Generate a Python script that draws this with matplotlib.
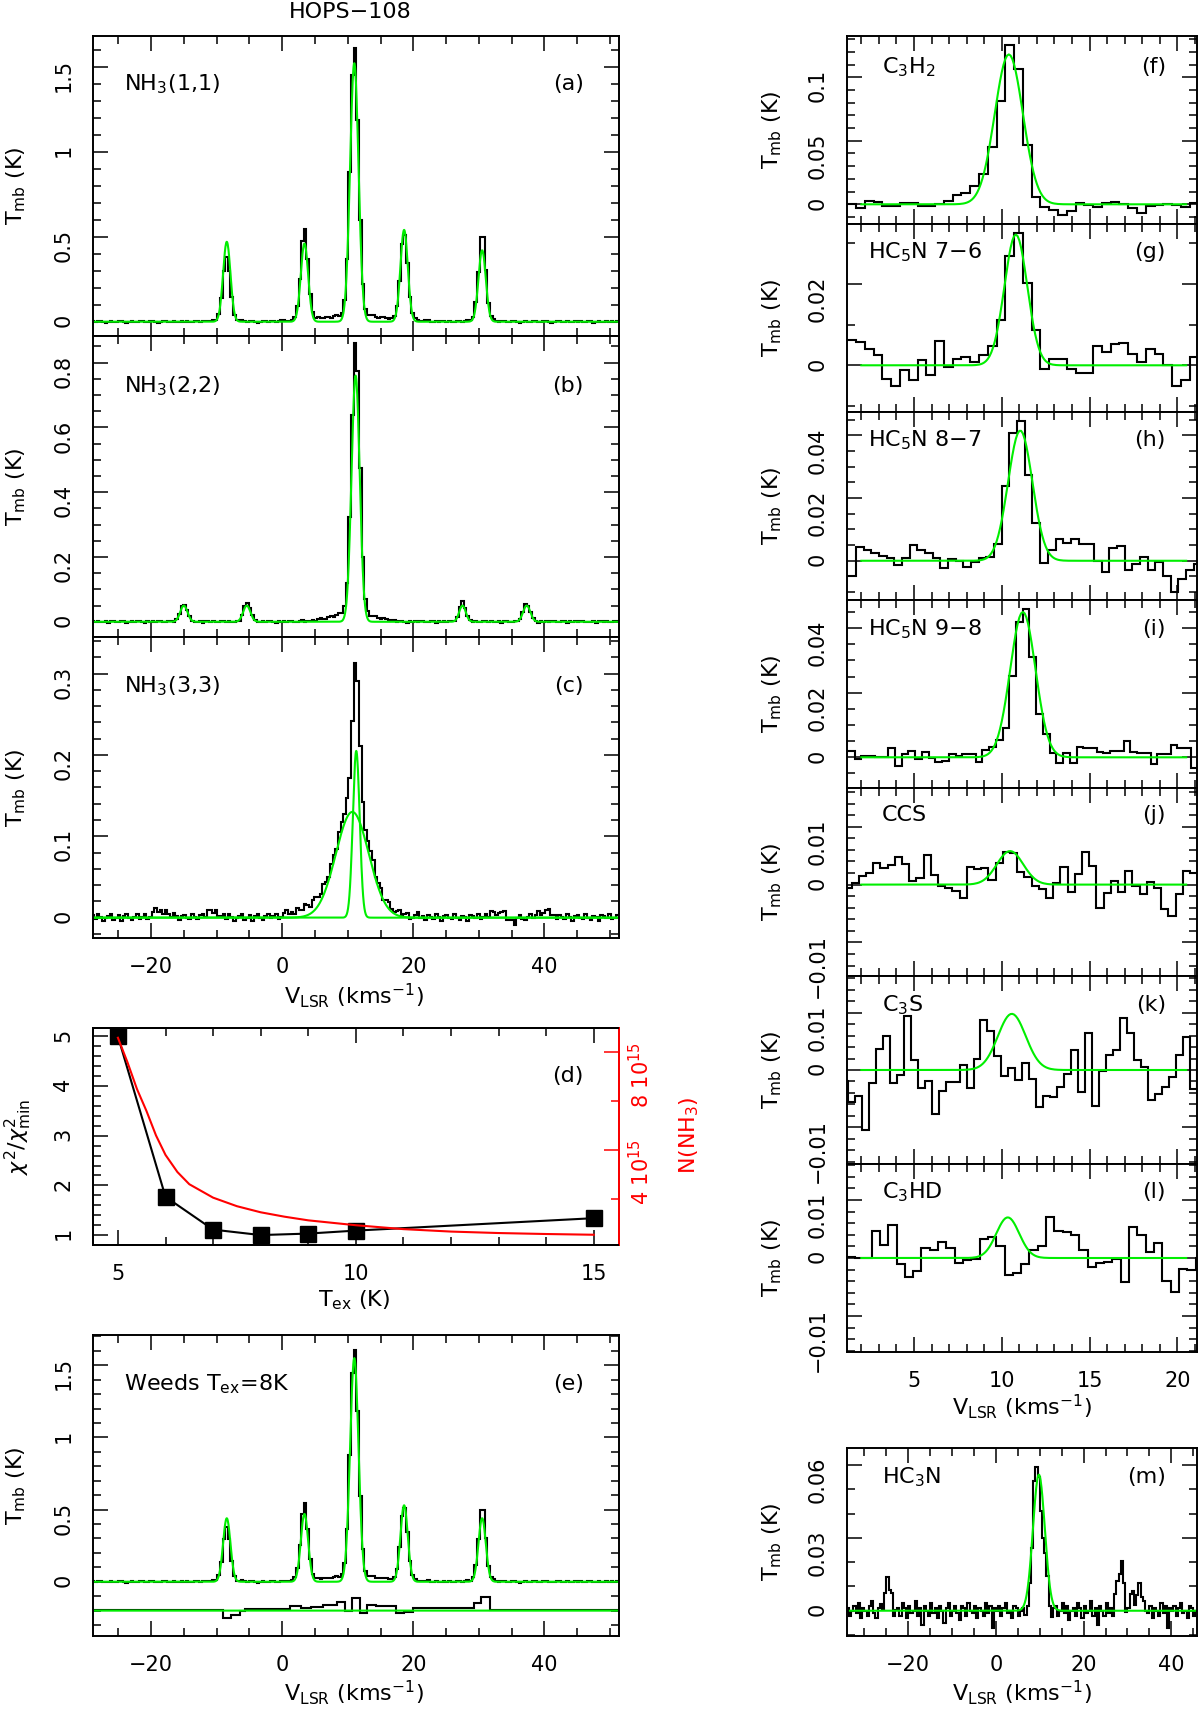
import numpy as np
import matplotlib
matplotlib.use("Agg")
import matplotlib.pyplot as plt
from matplotlib.ticker import MultipleLocator, FuncFormatter

plt.rcParams['font.family'] = ['DejaVu Sans']
plt.rcParams['mathtext.fontset'] = 'dejavusans'

W, H = 1200, 1710
GREEN = '#00ee00'

# --- NH3 spectra: channel grid, line components (centre, peak, sigma) ---
nh3_v0, nh3_dv, nh3_nchan = -29.1, 0.4, 201

nh3_11_obs = [(-8.5, 0.37, 0.55), (3.4, 0.53, 0.55), (11.0, 1.58, 0.62),
              (18.6, 0.50, 0.55), (30.5, 0.52, 0.55), (11.0, 0.045, 3.5),
              (-8.5, 0.010, 2.0), (3.4, 0.015, 2.0), (18.6, 0.015, 2.0), (30.5, 0.012, 2.0)]
nh3_11_fit = [(-8.45, 0.47, 0.56), (3.4, 0.46, 0.56), (11.0, 1.52, 0.64),
              (18.6, 0.54, 0.56), (30.5, 0.42, 0.56)]
nh3_11_weeds = [(-8.45, 0.44, 0.56), (3.4, 0.47, 0.56), (11.0, 1.55, 0.64),
                (18.6, 0.53, 0.56), (30.5, 0.44, 0.56)]
nh3_11_noise = [0.004, -0.002, 0.003, 0.006, -0.003, -0.005, 0.001, 0.004, -0.001, -0.004,
                0.002, 0.005, 0.000, -0.006, -0.002, 0.003, 0.001, -0.003, 0.004, 0.002,
                -0.004, -0.001, 0.005, 0.003, -0.002, -0.005, 0.000, 0.004, 0.006, -0.001,
                -0.003, 0.002, -0.004, 0.001, 0.003, -0.002, 0.005, -0.003, -0.001, 0.004,
                0.002, -0.005, 0.001, 0.003, -0.002, 0.000, 0.004, -0.004, 0.002, -0.001]

nh3_22_obs = [(11.2, 0.84, 0.62), (-15.0, 0.055, 0.55), (-5.3, 0.058, 0.55),
              (27.5, 0.062, 0.5), (37.3, 0.055, 0.55), (10.8, 0.03, 3.0)]
nh3_22_fit = [(11.2, 0.76, 0.62), (-15.0, 0.05, 0.55), (-5.4, 0.05, 0.55),
              (27.5, 0.05, 0.5), (37.3, 0.05, 0.55)]
nh3_22_noise = [0.002, -0.001, 0.003, -0.002, 0.000, 0.002, -0.003, 0.001, 0.003, -0.001,
                -0.002, 0.002, 0.001, -0.003, 0.000, 0.003, -0.002, 0.001, 0.002, -0.001,
                -0.003, 0.002, 0.000, 0.001, -0.002, 0.003, 0.001, -0.001, -0.002, 0.002,
                0.003, -0.003, 0.001, 0.000, 0.002, -0.002, 0.001, 0.003, -0.001, -0.002,
                0.000, 0.002, -0.003, 0.001, 0.002, -0.001, 0.003, -0.002, 0.000, 0.001]

nh3_33_obs = [(11.25, 0.17, 0.5), (10.9, 0.12, 2.2), (9.5, 0.03, 4.5),
              (-18.5, 0.008, 1.2), (-10.8, 0.007, 1.0), (32.8, 0.007, 1.0),
              (40.0, 0.008, 1.0), (35.2, -0.006, 0.6)]
nh3_33_fit_narrow = [(11.3, 0.205, 0.52)]
nh3_33_fit_broad = [(10.7, 0.13, 2.5)]
nh3_33_noise = [0.003, -0.002, 0.004, 0.001, -0.004, -0.001, 0.002, 0.005, -0.003, 0.000,
                0.003, -0.004, 0.002, 0.004, -0.001, -0.003, 0.001, 0.004, -0.002, 0.000,
                0.003, -0.004, -0.002, 0.002, 0.005, -0.001, 0.001, -0.003, 0.003, 0.000,
                -0.002, 0.004, 0.001, -0.004, 0.002, 0.003, -0.001, -0.002, 0.004, 0.000,
                -0.003, 0.002, 0.001, -0.004, 0.003, 0.002, -0.001, 0.004, -0.002, 0.000]

# residual (obs - Weeds) of panel e, shown offset
resid_offset = -0.2
resid_edges = [-29.1, -9.0, -7.8, -6.5, -5.6, 1.2, 2.8, 4.4, 6.2, 8.4, 9.6, 10.6,
               11.8, 13.0, 14.3, 17.4, 18.6, 19.9, 28.6, 29.2, 30.4, 31.7, 51.3]
resid_vals = [0.002, -0.05, -0.03, 0.0, 0.01, 0.03, 0.02, 0.025, 0.04, 0.06, 0.0,
              0.09, -0.015, 0.04, 0.03, -0.02, -0.01, 0.015, 0.02, 0.055, 0.095, 0.003]

# --- panel d: chi2 vs Tex, and N(NH3) (1e15 cm-2) ---
tex = [5, 6, 7, 8, 9, 10, 15]
chi2 = [5.0, 1.77, 1.11, 1.0, 1.03, 1.09, 1.34]
tex_n = [5.0, 5.2, 5.4, 5.6, 5.8, 6.0, 6.25, 6.5, 7.0, 7.5, 8.0, 8.5, 9.0, 10, 11, 12, 13, 14, 15]
n_nh3 = [8.6, 7.6, 6.5, 5.6, 4.6, 3.8, 3.1, 2.6, 2.05, 1.7, 1.45, 1.27, 1.12, 0.92, 0.76,
         0.66, 0.6, 0.56, 0.53]

# --- right column spectra: first channel edge, channel width, values (K) ---
f_v0, f_dv = 1.2, 0.5
f_vals = [0.0, -0.0026, 0.0026, 0.002, -0.001, -0.001, 0.001, 0.001, -0.001, -0.001,
          0.0003, 0.0026, 0.007, 0.0087, 0.0147, 0.0236, 0.0454, 0.0816, 0.1255, 0.1063,
          0.0465, 0.006, -0.0018, -0.0045, -0.0084, -0.005, 0.0008, -0.0008, -0.0018, 0.0008,
          0.0018, 0.0, -0.003, -0.007, -0.0013, -0.0008, 0.0, -0.0005, -0.0018, 0.0013]
g_v0, g_dv = 1.2, 0.5
g_vals = [0.0063, 0.0058, 0.0041, 0.0025, -0.0033, -0.0052, -0.0011, -0.0037, 0.0012, -0.0025,
          0.0059, -0.0004, 0.0016, 0.002, 0.0008, 0.0025, 0.0047, 0.0111, 0.0269, 0.0325,
          0.0202, 0.0088, -0.0008, 0.0016, 0.0016, -0.001, -0.002, -0.002, 0.0047, 0.0033,
          0.0052, 0.0055, 0.0029, 0.0008, 0.0039, 0.0029, 0.0, -0.0052, -0.0037, 0.002]
h_v0, h_dv = 0.823, 0.437
h_vals = [-0.005, -0.005, 0.0045, 0.0035, 0.0025, 0.0015, 0.0008, -0.0015, 0.001, 0.005,
          0.0035, 0.0025, 0.001, -0.0022, 0.0005, 0.0, -0.002, -0.0003, 0.001, 0.0013,
          0.0055, 0.0239, 0.0408, 0.0446, 0.0273, 0.0121, -0.0006, 0.0034, 0.0068, 0.0057,
          0.0068, 0.0053, 0.0053, 0.0, -0.0035, 0.004, 0.0048, -0.003, -0.001, 0.0013,
          -0.003, -0.0005, -0.005, -0.0099, -0.0057, -0.003, -0.001]
i_v0, i_dv = 0.852, 0.383
i_vals = [0.002, 0.002, -0.0005, 0.0005, 0.0005, 0.0, 0.0, 0.003, -0.0026, 0.001,
          0.002, -0.0005, 0.0015, -0.0002, -0.0016, -0.001, 0.001, 0.0005, 0.001, 0.001,
          -0.0016, 0.0023, 0.0032, 0.0053, 0.009, 0.0252, 0.0418, 0.046, 0.0312, 0.0135,
          0.0072, 0.0013, -0.0019, 0.0013, -0.0019, 0.0032, 0.003, 0.003, 0.0016, 0.0013,
          0.002, 0.002, 0.005, 0.0016, 0.0013, 0.0013, -0.002, 0.001, 0.001, 0.0037,
          0.0029, 0.0029, -0.0032]
j_v0, j_dv = 1.04, 0.41
j_vals = [-0.0006, 0.0003, 0.0015, 0.002, 0.0037, 0.0028, 0.0034, 0.0047, 0.0036, 0.0006,
          0.0011, 0.0051, 0.0017, -0.0002, -0.0006, -0.0011, -0.0024, 0.003, 0.0027, 0.0028,
          0.0008, 0.0037, 0.0056, 0.0054, 0.0021, 0.0013, -0.0003, -0.0008, -0.0024, 0.0002,
          0.0031, -0.0013, 0.0019, 0.0056, 0.0032, -0.004, -0.0014, 0.0007, -0.0013, 0.0024,
          -0.0002, -0.0017, 0.0004, -0.0006, -0.0042, -0.0054, -0.0017, 0.0023, 0.002]
k_v0, k_dv = 0.846, 0.397
k_vals = [-0.002, -0.0055, -0.0046, -0.0105, -0.0023, 0.0036, 0.006, -0.0023, -0.0008, 0.0094,
          0.0017, -0.0031, -0.002, -0.0076, -0.0036, -0.0021, -0.0021, 0.0008, -0.0031, 0.0019,
          0.0087, 0.0068, 0.0025, -0.001, 0.0003, -0.0017, 0.0013, -0.0016, -0.0065, -0.0045,
          -0.0047, -0.003, -0.0007, 0.0035, -0.0039, 0.0064, -0.0062, -0.0001, 0.0027, 0.0035,
          0.0091, 0.0065, 0.0017, 0.0005, -0.0052, -0.0042, -0.0029, -0.0013, 0.0026, 0.0057,
          -0.0033, 0.0017]
l_v0, l_dv = 1.167, 0.473
l_vals = [0.0001, 0.0, 0.0, 0.0046, 0.0022, 0.0057, -0.001, -0.0033, -0.0023, 0.0018,
          0.0013, 0.0027, 0.0018, -0.0009, -0.0003, -0.0002, 0.0033, 0.0037, 0.002, -0.0029,
          -0.0026, -0.0011, 0.0013, 0.0021, 0.007, 0.0046, 0.0044, 0.0039, 0.0013, -0.0016,
          -0.0009, -0.0007, -0.0002, -0.0042, 0.0054, 0.004, 0.0011, 0.0025, -0.0039, -0.0059,
          -0.0019, -0.0021, 0.0]

# gaussian fits for the right column (centre, peak, sigma)
f_fit = [(10.4, 0.118, 0.8)]
g_fit = [(10.8, 0.0322, 0.65)]
h_fit = [(11.05, 0.0415, 0.69)]
i_fit = [(11.2, 0.045, 0.72)]
j_fit = [(10.47, 0.0058, 0.75)]
k_fit = [(10.57, 0.0098, 0.79)]
l_fit = [(10.34, 0.007, 0.65)]

# HC3N
m_v0, m_dv, m_nchan = -34.0, 0.5, 160
m_obs = [(9.2, 0.06, 0.75), (10.8, 0.025, 0.7), (-24.6, 0.011, 0.7), (28.6, 0.019, 0.5),
         (27.8, 0.008, 0.5), (31.3, 0.009, 0.5), (32.9, 0.011, 0.4)]
m_fit = [(9.8, 0.056, 1.35)]
m_noise = [0.001, -0.002, 0.000, 0.002, -0.001, 0.003, -0.003, 0.001, 0.000, -0.002,
           0.002, 0.004, -0.001, -0.003, 0.001, 0.002, -0.002, 0.000, 0.003, -0.001,
           0.002, -0.004, 0.000, 0.001, -0.002, 0.003, 0.001, -0.003, 0.002, -0.001,
           0.000, 0.004, -0.002, 0.001, -0.006, 0.002, 0.000, -0.002, 0.003, -0.001,
           0.001, -0.003, 0.002, 0.000, -0.005, 0.001, 0.003, -0.002, 0.000, 0.002,
           -0.001, -0.004, 0.002, 0.001, -0.002, 0.003, 0.000, -0.001, 0.002, -0.003,
           0.001, 0.000, -0.002, 0.003, -0.001, 0.002, -0.007, 0.001, 0.000, 0.002,
           -0.002, 0.001, 0.003, -0.001, 0.000, -0.003, 0.002, 0.001, -0.002, 0.000]


def gauss(v, comps):
    out = np.zeros(len(v))
    for c, a, s in comps:
        out += a * np.exp(-0.5 * ((v - c) / s) ** 2)
    return out


def fmt(v, pos):
    s = '%g' % round(v, 6)
    if s == '-0':
        s = '0'
    return s.replace('-', '\u2212')


def px_axes(x0, y0, x1, y1):
    return fig.add_axes([x0 / W, 1 - y1 / H, (x1 - x0) / W, (y1 - y0) / H])


def style(ax, xlim, ylim, xmaj, xmin, ymaj, ymin, xlabels=False, right=True):
    ax.set_xlim(*xlim)
    ax.set_ylim(*ylim)
    ax.xaxis.set_major_locator(MultipleLocator(xmaj))
    ax.xaxis.set_minor_locator(MultipleLocator(xmin))
    ax.yaxis.set_major_locator(MultipleLocator(ymaj))
    ax.yaxis.set_minor_locator(MultipleLocator(ymin))
    ax.xaxis.set_major_formatter(FuncFormatter(fmt))
    ax.yaxis.set_major_formatter(FuncFormatter(fmt))
    ax.tick_params(which='both', direction='in', top=True, right=right, width=1.1,
                   labelsize=15, pad=14)
    ax.tick_params(which='major', length=10.5)
    ax.tick_params(which='minor', length=5.5)
    ax.tick_params(axis='y', labelrotation=90)
    ax.tick_params(axis='x', labelbottom=xlabels)
    for s in ax.spines.values():
        s.set_linewidth(1.4)


def ftext(x, y, s, **kw):
    kw.setdefault('fontsize', 16)
    fig.text(x / W, 1 - y / H, s, **kw)


fig = plt.figure(figsize=(12, 17.1), dpi=100)

nh3_edges = nh3_v0 + nh3_dv * np.arange(nh3_nchan + 1)
nh3_cen = nh3_edges[:-1] + nh3_dv / 2
v_fine = np.arange(-28.9, 51.31, 0.05)
nh3_xlim = (-28.9, 51.3)

obs11 = gauss(nh3_cen, nh3_11_obs) + np.resize(nh3_11_noise, nh3_nchan)
obs22 = gauss(nh3_cen, nh3_22_obs) + np.resize(nh3_22_noise, nh3_nchan)
obs33 = gauss(nh3_cen, nh3_33_obs) + np.resize(nh3_33_noise, nh3_nchan)

# (a)
ax = px_axes(92.7, 36, 618.5, 336)
ax.plot(v_fine, gauss(v_fine, nh3_11_fit), color=GREEN, lw=1.5)
ax.stairs(obs11, nh3_edges, baseline=None, color='k', lw=1.5)
style(ax, nh3_xlim, (-0.084, 1.68), 20, 5, 0.5, 0.1)

# (b)
ax = px_axes(92.7, 336, 618.5, 637)
ax.plot(v_fine, gauss(v_fine, nh3_22_fit), color=GREEN, lw=1.5)
ax.stairs(obs22, nh3_edges, baseline=None, color='k', lw=1.5)
style(ax, nh3_xlim, (-0.047, 0.882), 20, 5, 0.2, 0.05)

# (c)
ax = px_axes(92.7, 637, 618.5, 938)
ax.plot(v_fine, gauss(v_fine, nh3_33_fit_broad), color=GREEN, lw=1.5)
ax.plot(v_fine, gauss(v_fine, nh3_33_fit_narrow), color=GREEN, lw=1.5)
ax.stairs(obs33, nh3_edges, baseline=None, color='k', lw=1.5)
style(ax, nh3_xlim, (-0.025, 0.345), 20, 5, 0.1, 0.02, xlabels=True)

# (d)
ax = px_axes(92.7, 1028, 618.5, 1245)
ax.plot(tex, chi2, color='k', lw=1.5, marker='s', markersize=11)
style(ax, (4.47, 15.52), (0.8, 5.17), 5, 1, 1, 0.2, xlabels=True, right=False)
ax2 = ax.twinx()
ax2.plot(tex_n, n_nh3, color='red', lw=1.5)
ax2.set_ylim(0.11, 9.0)
ax2.yaxis.set_major_locator(MultipleLocator(4))
ax2.yaxis.set_minor_locator(MultipleLocator(2))
ax2.yaxis.set_major_formatter(FuncFormatter(lambda v, p: '%d 10$^{15}$' % round(v)))
ax2.tick_params(axis='y', which='both', direction='in', colors='red', width=1.1,
                labelsize=15, pad=6.5, labelrotation=90)
ax2.tick_params(axis='y', which='major', length=10.5)
ax2.tick_params(axis='y', which='minor', length=5.5)
ax2.spines['right'].set_color('red')
for s in ax2.spines.values():
    s.set_linewidth(1.4)

# (e)
ax = px_axes(92.7, 1335, 618.5, 1636)
ax.plot(v_fine, gauss(v_fine, nh3_11_weeds), color=GREEN, lw=1.5)
ax.plot(v_fine, np.zeros(len(v_fine)) + resid_offset, color=GREEN, lw=1.5)
ax.stairs(obs11, nh3_edges, baseline=None, color='k', lw=1.5)
ax.stairs(np.array(resid_vals) + resid_offset, resid_edges, baseline=None, color='k', lw=1.5)
style(ax, nh3_xlim, (-0.376, 1.71), 20, 5, 0.5, 0.1, xlabels=True)

# right column
right_panels = [
    (f_v0, f_dv, f_vals, f_fit, (-0.0155, 0.1325), 0.05, 0.01),
    (g_v0, g_dv, g_vals, g_fit, (-0.0115, 0.0348), 0.02, 0.01),
    (h_v0, h_dv, h_vals, h_fit, (-0.0125, 0.0474), 0.02, 0.005),
    (i_v0, i_dv, i_vals, i_fit, (-0.0095, 0.0487), 0.02, 0.005),
    (j_v0, j_dv, j_vals, j_fit, (-0.0158, 0.0167), 0.01, 0.002),
    (k_v0, k_dv, k_vals, k_fit, (-0.0164, 0.0164), 0.01, 0.002),
    (l_v0, l_dv, l_vals, l_fit, (-0.0162, 0.0162), 0.01, 0.002),
]
v_right = np.arange(2.0, 20.51, 0.1)
top = 36.0
ph = 188.0
for n, (v0, dv, vals, fit, ylim, ymaj, ymin) in enumerate(right_panels):
    ax = px_axes(847.3, top + n * ph, 1196.7, top + (n + 1) * ph)
    edges = v0 + dv * np.arange(len(vals) + 1)
    ax.stairs(vals, edges, baseline=None, color='k', lw=1.5)
    ax.plot(v_right, gauss(v_right, fit), color=GREEN, lw=1.5)
    style(ax, (1.2, 21.1), ylim, 5, 1, ymaj, ymin, xlabels=(n == len(right_panels) - 1))
    ftext(772, top + (n + 0.5) * ph, 'T$_{\\rm mb}$ (K)', rotation=90, ha='center', va='center')

# (m)
m_edges = m_v0 + m_dv * np.arange(m_nchan + 1)
m_cen = m_edges[:-1] + m_dv / 2
obs_m = gauss(m_cen, m_obs) + np.resize(m_noise, m_nchan)
v_m = np.arange(-33.3, 45.41, 0.1)
ax = px_axes(847.3, 1447.7, 1196.7, 1636)
ax.plot(v_m, gauss(v_m, m_fit), color=GREEN, lw=1.5)
ax.stairs(obs_m, m_edges, baseline=None, color='k', lw=1.5)
style(ax, (-33.9, 45.8), (-0.0104, 0.0671), 20, 5, 0.03, 0.01, xlabels=True)
ftext(772, 1542, 'T$_{\\rm mb}$ (K)', rotation=90, ha='center', va='center')

# labels, left column
ftext(350, 18, 'HOPS\u2212108', ha='center', va='baseline')
for yc in [186, 486.5, 787.5, 1485.5]:
    ftext(16, yc, 'T$_{\\rm mb}$ (K)', rotation=90, ha='center', va='center')
ftext(18, 1136.5, '$\\chi^2/\\chi^2_{\\rm min}$', rotation=90, ha='center', va='center')
ftext(689, 1135, 'N(NH$_3$)', rotation=90, ha='center', va='center', color='red')
ftext(354, 996, 'V$_{\\rm LSR}$ (kms$^{-1}$)', ha='center', va='center')
ftext(354, 1300, 'T$_{\\rm ex}$ (K)', ha='center', va='center')
ftext(354, 1693, 'V$_{\\rm LSR}$ (kms$^{-1}$)', ha='center', va='center')
ftext(1022, 1407, 'V$_{\\rm LSR}$ (kms$^{-1}$)', ha='center', va='center')
ftext(1022, 1693, 'V$_{\\rm LSR}$ (kms$^{-1}$)', ha='center', va='center')

left_tags = [('NH$_3$(1,1)', '(a)', 90), ('NH$_3$(2,2)', '(b)', 392),
             ('NH$_3$(3,3)', '(c)', 692), (None, '(d)', 1082),
             ('Weeds T$_{\\rm ex}$=8K', '(e)', 1390)]
for name, tag, yb in left_tags:
    if name:
        ftext(124, yb, name, ha='left', va='baseline')
    ftext(584, yb, tag, ha='right', va='baseline')

right_tags = [('C$_3$H$_2$', '(f)', 73, 881.7), ('HC$_5$N 7\u22126', '(g)', 258, 868),
              ('HC$_5$N 8\u22127', '(h)', 446, 868), ('HC$_5$N 9\u22128', '(i)', 635, 868),
              ('CCS', '(j)', 821, 881.7), ('C$_3$S', '(k)', 1011, 881.7),
              ('C$_3$HD', '(l)', 1198, 881.7), ('HC$_3$N', '(m)', 1483, 881.7)]
for name, tag, yb, xl in right_tags:
    ftext(xl, yb, name, ha='left', va='baseline')
    ftext(1166, yb, tag, ha='right', va='baseline')

fig.savefig('out.png', dpi=100)
